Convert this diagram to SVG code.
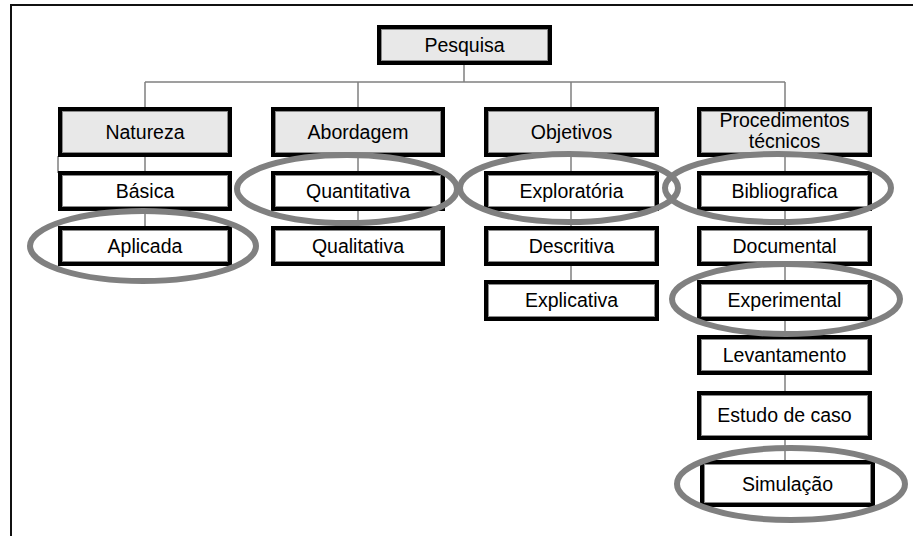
<svg xmlns="http://www.w3.org/2000/svg" width="913" height="536" viewBox="0 0 913 536">
<style>
.box{stroke:#000;stroke-width:4}
.inner{fill:none;stroke:#8a8a8a;stroke-width:1}
.head{fill:#e8e8e8}
.leaf{fill:#fff}
.lbl{font-family:"Liberation Sans",Arial,sans-serif;font-size:19.5px;fill:#000;text-anchor:middle}
.con{stroke:#808080;stroke-width:1.5;fill:none}
.ring{fill:none;stroke:#808080;stroke-width:6}
</style>
<rect width="913" height="536" fill="#fff"/>
<path d="M11,536 V5 H913" fill="none" stroke="#111" stroke-width="2"/>
<g id="connectors">
<path class="con" d="M464,63V82M145,82H785M145,82V109M358,82V109M571,82V109M785,82V109"/>
<path class="con" d="M145,155V173M145,209V228M58,156H145M58,156V173"/>
<path class="con" d="M358,155V173M358,209V228"/>
<path class="con" d="M571,155V173M571,209V228M571,264V282"/>
<path class="con" d="M785,155V173M785,209V228M785,264V282M785,319V337M785,373V393M785,438V462"/>
</g>
<g id="n-pesquisa"><rect class="box head" x="379" y="27" width="171" height="36"/><rect class="inner" x="381.5" y="29.5" width="166" height="31"/><text class="lbl" x="464.5" y="52">Pesquisa</text></g>
<g id="n-natureza"><rect class="box head" x="60" y="109" width="170" height="46"/><rect class="inner" x="62.5" y="111.5" width="165" height="41"/><text class="lbl" x="145" y="139">Natureza</text></g>
<g id="n-abordagem"><rect class="box head" x="273" y="109" width="170" height="46"/><rect class="inner" x="275.5" y="111.5" width="165" height="41"/><text class="lbl" x="358" y="139">Abordagem</text></g>
<g id="n-objetivos"><rect class="box head" x="486" y="109" width="171" height="46"/><rect class="inner" x="488.5" y="111.5" width="166" height="41"/><text class="lbl" x="571.5" y="139">Objetivos</text></g>
<g id="n-procedimentos"><rect class="box head" x="699" y="109" width="171" height="46"/><rect class="inner" x="701.5" y="111.5" width="166" height="41"/><text class="lbl" x="784.5" y="127">Procedimentos</text><text class="lbl" x="784.5" y="148">técnicos</text></g>
<g id="n-basica"><rect class="box leaf" x="60" y="173" width="170" height="36"/><rect class="inner" x="62.5" y="175.5" width="165" height="31"/><text class="lbl" x="145" y="198">Básica</text></g>
<g id="n-aplicada"><rect class="box leaf" x="60" y="228" width="170" height="36"/><rect class="inner" x="62.5" y="230.5" width="165" height="31"/><text class="lbl" x="145" y="253">Aplicada</text></g>
<g id="n-quantitativa"><rect class="box leaf" x="273" y="173" width="170" height="36"/><rect class="inner" x="275.5" y="175.5" width="165" height="31"/><text class="lbl" x="358" y="198">Quantitativa</text></g>
<g id="n-qualitativa"><rect class="box leaf" x="273" y="228" width="170" height="36"/><rect class="inner" x="275.5" y="230.5" width="165" height="31"/><text class="lbl" x="358" y="253">Qualitativa</text></g>
<g id="n-exploratoria"><rect class="box leaf" x="486" y="173" width="171" height="36"/><rect class="inner" x="488.5" y="175.5" width="166" height="31"/><text class="lbl" x="571.5" y="198">Exploratória</text></g>
<g id="n-descritiva"><rect class="box leaf" x="486" y="228" width="171" height="36"/><rect class="inner" x="488.5" y="230.5" width="166" height="31"/><text class="lbl" x="571.5" y="253">Descritiva</text></g>
<g id="n-explicativa"><rect class="box leaf" x="486" y="282" width="171" height="37"/><rect class="inner" x="488.5" y="284.5" width="166" height="32"/><text class="lbl" x="571.5" y="307">Explicativa</text></g>
<g id="n-bibliografica"><rect class="box leaf" x="699" y="173" width="171" height="36"/><rect class="inner" x="701.5" y="175.5" width="166" height="31"/><text class="lbl" x="784.5" y="198">Bibliografica</text></g>
<g id="n-documental"><rect class="box leaf" x="699" y="228" width="171" height="36"/><rect class="inner" x="701.5" y="230.5" width="166" height="31"/><text class="lbl" x="784.5" y="253">Documental</text></g>
<g id="n-experimental"><rect class="box leaf" x="699" y="282" width="171" height="37"/><rect class="inner" x="701.5" y="284.5" width="166" height="32"/><text class="lbl" x="784.5" y="307">Experimental</text></g>
<g id="n-levantamento"><rect class="box leaf" x="699" y="337" width="171" height="36"/><rect class="inner" x="701.5" y="339.5" width="166" height="31"/><text class="lbl" x="784.5" y="362">Levantamento</text></g>
<g id="n-estudo"><rect class="box leaf" x="699" y="393" width="171" height="45"/><rect class="inner" x="701.5" y="395.5" width="166" height="40"/><text class="lbl" x="784.5" y="422">Estudo de caso</text></g>
<g id="n-simulacao"><rect class="box leaf" x="702" y="462" width="171" height="43"/><rect class="inner" x="704.5" y="464.5" width="166" height="38"/><text class="lbl" x="787.5" y="491">Simulação</text></g>
<g id="highlights">
<ellipse class="ring" cx="143" cy="246" rx="113" ry="35"/>
<ellipse class="ring" cx="347" cy="189" rx="110" ry="34"/>
<ellipse class="ring" cx="569" cy="188" rx="109" ry="34"/>
<ellipse class="ring" cx="778" cy="188" rx="113" ry="34"/>
<ellipse class="ring" cx="786" cy="299" rx="114" ry="35"/>
<ellipse class="ring" cx="791" cy="484" rx="114" ry="36"/>
</g>
</svg>
